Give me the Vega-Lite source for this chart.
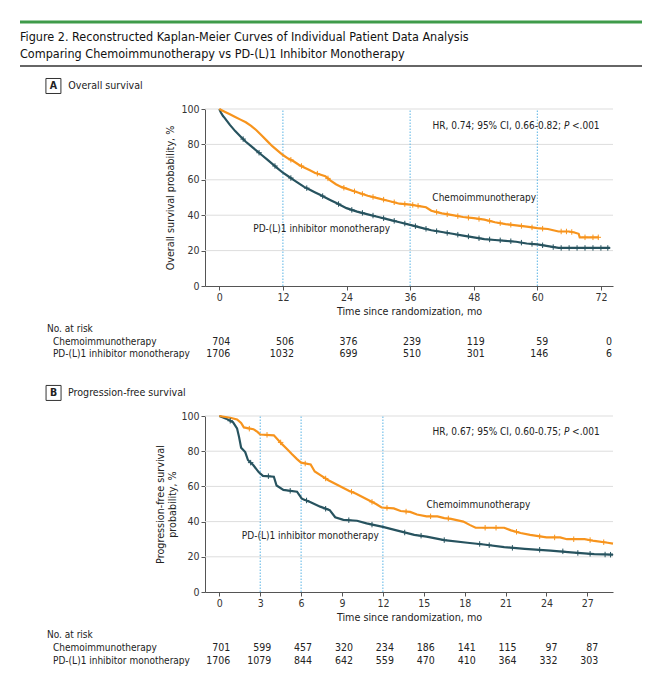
{
  "$schema": "https://vega.github.io/schema/vega-lite/v6.json",
  "width": 660,
  "height": 680,
  "autosize": {"type": "none"},
  "padding": 0,
  "background": "white",
  "config": {
    "font": "Liberation Sans Narrow, DejaVu Sans Condensed, Liberation Sans, sans-serif",
    "view": {"stroke": null},
    "text": {"color": "#222", "fontSize": 10},
    "axis": {
      "grid": false,
      "domainColor": "#555",
      "tickColor": "#555",
      "tickSize": 4,
      "labelColor": "#333",
      "titleColor": "#222",
      "labelFontSize": 10.5,
      "titleFontSize": 10.7,
      "titleFontWeight": "normal"
    }
  },
  "resolve": {
    "scale": {"x": "independent", "y": "independent"},
    "axis": {"x": "independent", "y": "independent"}
  },
  "layer": [
    {
      "layer": [
        {
          "data": {"values": [{"rule": "top"}]},
          "mark": {"type": "rule", "stroke": "#3f9b4a", "strokeWidth": 3},
          "encoding": {
            "x": {"datum": 0, "type": "quantitative", "scale": {"domain": [0, 1], "range": [20, 642]}, "axis": null},
            "x2": {"datum": 1},
            "y": {"datum": 0, "type": "quantitative", "scale": {"domain": [0, 2.6], "range": [22, 66]}, "axis": null}
          }
        },
        {
          "data": {"values": [{"rule": "bottom"}]},
          "mark": {"type": "rule", "stroke": "#333", "strokeWidth": 1.5},
          "encoding": {
            "x": {"datum": 0, "type": "quantitative", "scale": {"domain": [0, 1], "range": [20, 642]}, "axis": null},
            "x2": {"datum": 1},
            "y": {"datum": 2.6, "type": "quantitative", "scale": {"domain": [0, 2.6], "range": [22, 66]}, "axis": null}
          }
        },
        {
          "data": {"values": [
            {"line": 1, "text": "Figure 2. Reconstructed Kaplan-Meier Curves of Individual Patient Data Analysis"},
            {"line": 2, "text": "Comparing Chemoimmunotherapy vs PD-(L)1 Inhibitor Monotherapy"}
          ]},
          "mark": {"type": "text", "align": "left", "baseline": "middle", "dy": -2, "fontSize": 12.5, "color": "#111"},
          "encoding": {
            "x": {"datum": 0, "type": "quantitative", "scale": {"domain": [0, 1], "range": [20, 642]}, "axis": null},
            "y": {"field": "line", "type": "quantitative", "scale": {"domain": [0, 2.6], "range": [22, 66]}, "axis": null},
            "text": {"field": "text"}
          }
        }
      ]
    },
    {
      "layer": [
        {
          "data": {"values": [{"s": 20}, {"s": 40}, {"s": 60}, {"s": 80}, {"s": 100}]},
          "mark": {"type": "rule", "stroke": "#dddddd", "strokeWidth": 1},
          "encoding": {
            "x": {"datum": -2.7, "type": "quantitative", "scale": {"domain": [-2.7, 74.28], "range": [205, 613], "nice": false, "zero": false}},
            "x2": {"datum": 74.28},
            "y": {"field": "s", "type": "quantitative", "scale": {"domain": [0, 100], "range": [286, 109], "nice": false, "zero": false}}
          }
        },
        {
          "data": {"values": [{"t": 12}, {"t": 36}, {"t": 60}]},
          "mark": {"type": "rule", "stroke": "#5ab4e5", "strokeWidth": 1, "strokeDash": [1.5, 1.5]},
          "encoding": {
            "x": {"field": "t", "type": "quantitative", "scale": {"domain": [-2.7, 74.28], "range": [205, 613], "nice": false, "zero": false}},
            "y": {"datum": 0, "type": "quantitative", "scale": {"domain": [0, 100], "range": [286, 109], "nice": false, "zero": false}},
            "y2": {"datum": 100}
          }
        },
        {
          "data": {"values": [
            {"arm": "PD", "t": 0, "s": 100}, {"arm": "PD", "t": 0.3, "s": 98}, {"arm": "PD", "t": 0.7, "s": 96}, {"arm": "PD", "t": 1, "s": 95},
            {"arm": "PD", "t": 2, "s": 91}, {"arm": "PD", "t": 3, "s": 87.5}, {"arm": "PD", "t": 4, "s": 84.5}, {"arm": "PD", "t": 5, "s": 81.5},
            {"arm": "PD", "t": 6, "s": 79}, {"arm": "PD", "t": 7, "s": 76.5}, {"arm": "PD", "t": 8, "s": 74}, {"arm": "PD", "t": 9, "s": 71.5},
            {"arm": "PD", "t": 10, "s": 69}, {"arm": "PD", "t": 11, "s": 66.5}, {"arm": "PD", "t": 12, "s": 64}, {"arm": "PD", "t": 13, "s": 62},
            {"arm": "PD", "t": 14, "s": 60}, {"arm": "PD", "t": 15, "s": 58}, {"arm": "PD", "t": 16, "s": 56}, {"arm": "PD", "t": 17, "s": 54.5},
            {"arm": "PD", "t": 18, "s": 53}, {"arm": "PD", "t": 19, "s": 51.5}, {"arm": "PD", "t": 20, "s": 50}, {"arm": "PD", "t": 21, "s": 48.5},
            {"arm": "PD", "t": 22, "s": 47}, {"arm": "PD", "t": 23, "s": 45.5}, {"arm": "PD", "t": 24, "s": 44}, {"arm": "PD", "t": 26, "s": 42},
            {"arm": "PD", "t": 28, "s": 40.5}, {"arm": "PD", "t": 30, "s": 39}, {"arm": "PD", "t": 32, "s": 37.5}, {"arm": "PD", "t": 34, "s": 36},
            {"arm": "PD", "t": 36, "s": 34.5}, {"arm": "PD", "t": 38, "s": 33}, {"arm": "PD", "t": 40, "s": 31.5}, {"arm": "PD", "t": 42, "s": 30.5},
            {"arm": "PD", "t": 44, "s": 29.5}, {"arm": "PD", "t": 46, "s": 28.5}, {"arm": "PD", "t": 48, "s": 27.5}, {"arm": "PD", "t": 50, "s": 26.5},
            {"arm": "PD", "t": 52, "s": 26}, {"arm": "PD", "t": 54, "s": 25.5}, {"arm": "PD", "t": 56, "s": 25}, {"arm": "PD", "t": 58, "s": 24},
            {"arm": "PD", "t": 60, "s": 23.5}, {"arm": "PD", "t": 62, "s": 22.5}, {"arm": "PD", "t": 64, "s": 21.5}, {"arm": "PD", "t": 70, "s": 21.5},
            {"arm": "PD", "t": 73.7, "s": 21.5},
            {"arm": "Chemo", "t": 0, "s": 100}, {"arm": "Chemo", "t": 1, "s": 98.5}, {"arm": "Chemo", "t": 2, "s": 97}, {"arm": "Chemo", "t": 3, "s": 95.5},
            {"arm": "Chemo", "t": 4, "s": 94}, {"arm": "Chemo", "t": 5, "s": 92.5}, {"arm": "Chemo", "t": 6, "s": 90.5}, {"arm": "Chemo", "t": 7, "s": 88},
            {"arm": "Chemo", "t": 8, "s": 85}, {"arm": "Chemo", "t": 9, "s": 82}, {"arm": "Chemo", "t": 10, "s": 79}, {"arm": "Chemo", "t": 11, "s": 76.5},
            {"arm": "Chemo", "t": 12, "s": 74}, {"arm": "Chemo", "t": 13, "s": 72}, {"arm": "Chemo", "t": 14, "s": 70.5}, {"arm": "Chemo", "t": 15, "s": 68.5},
            {"arm": "Chemo", "t": 16, "s": 67}, {"arm": "Chemo", "t": 17, "s": 65.5}, {"arm": "Chemo", "t": 18, "s": 64}, {"arm": "Chemo", "t": 19, "s": 63},
            {"arm": "Chemo", "t": 20, "s": 62}, {"arm": "Chemo", "t": 21, "s": 59.5}, {"arm": "Chemo", "t": 22, "s": 57.5}, {"arm": "Chemo", "t": 23, "s": 56},
            {"arm": "Chemo", "t": 24, "s": 55}, {"arm": "Chemo", "t": 25, "s": 54}, {"arm": "Chemo", "t": 26, "s": 53}, {"arm": "Chemo", "t": 28, "s": 51},
            {"arm": "Chemo", "t": 30, "s": 49.5}, {"arm": "Chemo", "t": 32, "s": 48}, {"arm": "Chemo", "t": 34, "s": 46.5}, {"arm": "Chemo", "t": 36, "s": 46},
            {"arm": "Chemo", "t": 37, "s": 45.5}, {"arm": "Chemo", "t": 38, "s": 45}, {"arm": "Chemo", "t": 39, "s": 44.5}, {"arm": "Chemo", "t": 40, "s": 42.5},
            {"arm": "Chemo", "t": 42, "s": 41}, {"arm": "Chemo", "t": 44, "s": 40}, {"arm": "Chemo", "t": 46, "s": 39}, {"arm": "Chemo", "t": 48, "s": 38.3},
            {"arm": "Chemo", "t": 50, "s": 37.5}, {"arm": "Chemo", "t": 52, "s": 36}, {"arm": "Chemo", "t": 54, "s": 35}, {"arm": "Chemo", "t": 56, "s": 34.3},
            {"arm": "Chemo", "t": 58, "s": 33.5}, {"arm": "Chemo", "t": 60, "s": 32.7}, {"arm": "Chemo", "t": 62, "s": 32.2}, {"arm": "Chemo", "t": 63, "s": 31.5},
            {"arm": "Chemo", "t": 64, "s": 30.8}, {"arm": "Chemo", "t": 66, "s": 30.8}, {"arm": "Chemo", "t": 67, "s": 30.2}, {"arm": "Chemo", "t": 67.8, "s": 29.5},
            {"arm": "Chemo", "t": 68, "s": 27.5}, {"arm": "Chemo", "t": 71.6, "s": 27.5}
          ]},
          "mark": {"type": "line", "strokeWidth": 2.2},
          "encoding": {
            "x": {
              "field": "t", "type": "quantitative",
              "scale": {"domain": [-2.7, 74.28], "range": [205, 613], "nice": false, "zero": false},
              "axis": {"orient": "bottom", "offset": -394, "values": [0, 12, 24, 36, 48, 60, 72], "title": "Time since randomization, mo", "labelPadding": 2, "titlePadding": 4}
            },
            "y": {
              "field": "s", "type": "quantitative",
              "scale": {"domain": [0, 100], "range": [286, 109], "nice": false, "zero": false},
              "axis": {"orient": "left", "offset": -205, "values": [0, 20, 40, 60, 80, 100], "title": "Overall survival probability, %", "labelPadding": 2, "titlePadding": 5}
            },
            "color": {"field": "arm", "type": "nominal", "scale": {"domain": ["Chemo", "PD"], "range": ["#f7941d", "#27535f"]}, "legend": null},
            "order": {"field": "t"}
          }
        },
        {
          "data": {"values": [
            {"arm": "PD", "t": 4.5, "s": 83}, {"arm": "PD", "t": 7.5, "s": 75.3}, {"arm": "PD", "t": 10.5, "s": 67.8}, {"arm": "PD", "t": 13.5, "s": 61},
            {"arm": "PD", "t": 16.5, "s": 55.3}, {"arm": "PD", "t": 19.5, "s": 50.8}, {"arm": "PD", "t": 22.5, "s": 46.3}, {"arm": "PD", "t": 25, "s": 43},
            {"arm": "PD", "t": 27, "s": 41.3}, {"arm": "PD", "t": 29, "s": 39.8}, {"arm": "PD", "t": 31, "s": 38.3}, {"arm": "PD", "t": 33, "s": 36.8},
            {"arm": "PD", "t": 35, "s": 35.3}, {"arm": "PD", "t": 37, "s": 33.8}, {"arm": "PD", "t": 39, "s": 32.3}, {"arm": "PD", "t": 41, "s": 31},
            {"arm": "PD", "t": 43, "s": 30}, {"arm": "PD", "t": 45, "s": 29}, {"arm": "PD", "t": 47, "s": 28}, {"arm": "PD", "t": 49, "s": 27},
            {"arm": "PD", "t": 51, "s": 26.3}, {"arm": "PD", "t": 53, "s": 25.8}, {"arm": "PD", "t": 55, "s": 25.3}, {"arm": "PD", "t": 57, "s": 24.5},
            {"arm": "PD", "t": 59, "s": 23.8}, {"arm": "PD", "t": 61, "s": 23}, {"arm": "PD", "t": 63, "s": 22}, {"arm": "PD", "t": 64.5, "s": 21.5},
            {"arm": "PD", "t": 66, "s": 21.5}, {"arm": "PD", "t": 67.5, "s": 21.5}, {"arm": "PD", "t": 69, "s": 21.5}, {"arm": "PD", "t": 70.5, "s": 21.5},
            {"arm": "PD", "t": 72, "s": 21.5}, {"arm": "PD", "t": 73.3, "s": 21.5},
            {"arm": "Chemo", "t": 13.5, "s": 71.3}, {"arm": "Chemo", "t": 15.5, "s": 67.8}, {"arm": "Chemo", "t": 18.5, "s": 63.5}, {"arm": "Chemo", "t": 20.5, "s": 60.8},
            {"arm": "Chemo", "t": 23.5, "s": 55.5}, {"arm": "Chemo", "t": 25.5, "s": 53.5}, {"arm": "Chemo", "t": 27, "s": 52}, {"arm": "Chemo", "t": 29, "s": 50.3},
            {"arm": "Chemo", "t": 31, "s": 48.8}, {"arm": "Chemo", "t": 33, "s": 47.3}, {"arm": "Chemo", "t": 35, "s": 46.3}, {"arm": "Chemo", "t": 36.5, "s": 45.8},
            {"arm": "Chemo", "t": 37.5, "s": 45.3}, {"arm": "Chemo", "t": 41, "s": 41.8}, {"arm": "Chemo", "t": 43, "s": 40.5}, {"arm": "Chemo", "t": 45, "s": 39.5},
            {"arm": "Chemo", "t": 47, "s": 38.6}, {"arm": "Chemo", "t": 49, "s": 37.9}, {"arm": "Chemo", "t": 51, "s": 36.8}, {"arm": "Chemo", "t": 53, "s": 35.5},
            {"arm": "Chemo", "t": 55, "s": 34.6}, {"arm": "Chemo", "t": 57, "s": 33.9}, {"arm": "Chemo", "t": 59, "s": 33.1}, {"arm": "Chemo", "t": 61, "s": 32.4},
            {"arm": "Chemo", "t": 64.5, "s": 30.8}, {"arm": "Chemo", "t": 65.5, "s": 30.8}, {"arm": "Chemo", "t": 66.5, "s": 30.5}, {"arm": "Chemo", "t": 69, "s": 27.5},
            {"arm": "Chemo", "t": 70.5, "s": 27.5}, {"arm": "Chemo", "t": 71.5, "s": 27.5}
          ]},
          "mark": {"type": "point", "shape": "M-1,0H1M0,-1V1", "filled": false, "size": 30, "strokeWidth": 1, "opacity": 1},
          "encoding": {
            "x": {"field": "t", "type": "quantitative", "scale": {"domain": [-2.7, 74.28], "range": [205, 613], "nice": false, "zero": false}},
            "y": {"field": "s", "type": "quantitative", "scale": {"domain": [0, 100], "range": [286, 109], "nice": false, "zero": false}},
            "color": {"field": "arm", "type": "nominal", "scale": {"domain": ["Chemo", "PD"], "range": ["#f7941d", "#27535f"]}, "legend": null}
          }
        },
        {
          "data": {"values": [
            {"label": "Chemoimmunotherapy", "t": 40.2, "s": 49.9},
            {"label": "PD-(L)1 inhibitor monotherapy", "t": 6.4, "s": 32.2}
          ]},
          "mark": {"type": "text", "align": "left", "baseline": "middle"},
          "encoding": {
            "x": {"field": "t", "type": "quantitative", "scale": {"domain": [-2.7, 74.28], "range": [205, 613], "nice": false, "zero": false}},
            "y": {"field": "s", "type": "quantitative", "scale": {"domain": [0, 100], "range": [286, 109], "nice": false, "zero": false}},
            "text": {"field": "label"}
          }
        },
        {
          "data": {"values": [{"label": "HR, 0.74; 95% CI, 0.66-0.82;"}]},
          "mark": {"type": "text", "align": "right", "baseline": "middle"},
          "encoding": {
            "x": {"datum": 64.47, "type": "quantitative", "scale": {"domain": [-2.7, 74.28], "range": [205, 613], "nice": false, "zero": false}},
            "y": {"datum": 90.6, "type": "quantitative", "scale": {"domain": [0, 100], "range": [286, 109], "nice": false, "zero": false}},
            "text": {"field": "label"}
          }
        },
        {
          "data": {"values": [{"label": "P"}]},
          "mark": {"type": "text", "align": "right", "baseline": "middle", "fontStyle": "italic"},
          "encoding": {
            "x": {"datum": 66.08, "type": "quantitative", "scale": {"domain": [-2.7, 74.28], "range": [205, 613], "nice": false, "zero": false}},
            "y": {"datum": 90.6, "type": "quantitative", "scale": {"domain": [0, 100], "range": [286, 109], "nice": false, "zero": false}},
            "text": {"field": "label"}
          }
        },
        {
          "data": {"values": [{"label": "<.001"}]},
          "mark": {"type": "text", "align": "left", "baseline": "middle"},
          "encoding": {
            "x": {"datum": 66.55, "type": "quantitative", "scale": {"domain": [-2.7, 74.28], "range": [205, 613], "nice": false, "zero": false}},
            "y": {"datum": 90.6, "type": "quantitative", "scale": {"domain": [0, 100], "range": [286, 109], "nice": false, "zero": false}},
            "text": {"field": "label"}
          }
        },
        {
          "data": {"values": [{"label": "A"}]},
          "mark": {"type": "point", "shape": "square", "filled": false, "size": 225, "stroke": "#333", "strokeWidth": 1, "opacity": 1},
          "encoding": {
            "x": {"datum": -31.3, "type": "quantitative", "scale": {"domain": [-2.7, 74.28], "range": [205, 613], "nice": false, "zero": false}},
            "y": {"datum": 113, "type": "quantitative", "scale": {"domain": [0, 100], "range": [286, 109], "nice": false, "zero": false}}
          }
        },
        {
          "data": {"values": [{"label": "A"}]},
          "mark": {"type": "text", "align": "center", "baseline": "middle", "fontWeight": "bold", "fontSize": 10.5},
          "encoding": {
            "x": {"datum": -31.3, "type": "quantitative", "scale": {"domain": [-2.7, 74.28], "range": [205, 613], "nice": false, "zero": false}},
            "y": {"datum": 113, "type": "quantitative", "scale": {"domain": [0, 100], "range": [286, 109], "nice": false, "zero": false}},
            "text": {"field": "label"}
          }
        },
        {
          "data": {"values": [{"label": "Overall survival"}]},
          "mark": {"type": "text", "align": "left", "baseline": "middle", "fontSize": 10.6},
          "encoding": {
            "x": {"datum": -28.5, "type": "quantitative", "scale": {"domain": [-2.7, 74.28], "range": [205, 613], "nice": false, "zero": false}},
            "y": {"datum": 113, "type": "quantitative", "scale": {"domain": [0, 100], "range": [286, 109], "nice": false, "zero": false}},
            "text": {"field": "label"}
          }
        },
        {
          "data": {"values": [{"label": "No. at risk"}]},
          "mark": {"type": "text", "align": "left", "baseline": "middle"},
          "encoding": {
            "x": {"datum": -32.5, "type": "quantitative", "scale": {"domain": [-2.7, 74.28], "range": [205, 613], "nice": false, "zero": false}},
            "y": {"datum": -24.3, "type": "quantitative", "scale": {"domain": [0, 100], "range": [286, 109], "nice": false, "zero": false}},
            "text": {"field": "label"}
          }
        },
        {
          "data": {"values": [{"label": "Chemoimmunotherapy"}]},
          "mark": {"type": "text", "align": "left", "baseline": "middle"},
          "encoding": {
            "x": {"datum": -31.4, "type": "quantitative", "scale": {"domain": [-2.7, 74.28], "range": [205, 613], "nice": false, "zero": false}},
            "y": {"datum": -31.5, "type": "quantitative", "scale": {"domain": [0, 100], "range": [286, 109], "nice": false, "zero": false}},
            "text": {"field": "label"}
          }
        },
        {
          "data": {"values": [{"label": "PD-(L)1 inhibitor monotherapy"}]},
          "mark": {"type": "text", "align": "left", "baseline": "middle"},
          "encoding": {
            "x": {"datum": -31.4, "type": "quantitative", "scale": {"domain": [-2.7, 74.28], "range": [205, 613], "nice": false, "zero": false}},
            "y": {"datum": -38.4, "type": "quantitative", "scale": {"domain": [0, 100], "range": [286, 109], "nice": false, "zero": false}},
            "text": {"field": "label"}
          }
        },
        {
          "data": {"values": [
            {"arm": "Chemo", "t": 0, "n": 704}, {"arm": "Chemo", "t": 12, "n": 506}, {"arm": "Chemo", "t": 24, "n": 376}, {"arm": "Chemo", "t": 36, "n": 239},
            {"arm": "Chemo", "t": 48, "n": 119}, {"arm": "Chemo", "t": 60, "n": 59}, {"arm": "Chemo", "t": 72, "n": 0}
          ]},
          "mark": {"type": "text", "align": "right", "baseline": "middle", "dx": 11, "fontSize": 10.5},
          "encoding": {
            "x": {"field": "t", "type": "quantitative", "scale": {"domain": [-2.7, 74.28], "range": [205, 613], "nice": false, "zero": false}},
            "y": {"datum": -31.5, "type": "quantitative", "scale": {"domain": [0, 100], "range": [286, 109], "nice": false, "zero": false}},
            "text": {"field": "n"}
          }
        },
        {
          "data": {"values": [
            {"arm": "PD", "t": 0, "n": 1706}, {"arm": "PD", "t": 12, "n": 1032}, {"arm": "PD", "t": 24, "n": 699}, {"arm": "PD", "t": 36, "n": 510},
            {"arm": "PD", "t": 48, "n": 301}, {"arm": "PD", "t": 60, "n": 146}, {"arm": "PD", "t": 72, "n": 6}
          ]},
          "mark": {"type": "text", "align": "right", "baseline": "middle", "dx": 11, "fontSize": 10.5},
          "encoding": {
            "x": {"field": "t", "type": "quantitative", "scale": {"domain": [-2.7, 74.28], "range": [205, 613], "nice": false, "zero": false}},
            "y": {"datum": -38.4, "type": "quantitative", "scale": {"domain": [0, 100], "range": [286, 109], "nice": false, "zero": false}},
            "text": {"field": "n"}
          }
        }
      ]
    },
    {
      "layer": [
        {
          "data": {"values": [{"s": 20}, {"s": 40}, {"s": 60}, {"s": 80}, {"s": 100}]},
          "mark": {"type": "rule", "stroke": "#dddddd", "strokeWidth": 1},
          "encoding": {
            "x": {"datum": -1.05, "type": "quantitative", "scale": {"domain": [-1.05, 28.88], "range": [205, 613], "nice": false, "zero": false}},
            "x2": {"datum": 28.88},
            "y": {"field": "s", "type": "quantitative", "scale": {"domain": [0, 100], "range": [592, 416], "nice": false, "zero": false}}
          }
        },
        {
          "data": {"values": [{"t": 3}, {"t": 6}, {"t": 12}]},
          "mark": {"type": "rule", "stroke": "#5ab4e5", "strokeWidth": 1, "strokeDash": [1.5, 1.5]},
          "encoding": {
            "x": {"field": "t", "type": "quantitative", "scale": {"domain": [-1.05, 28.88], "range": [205, 613], "nice": false, "zero": false}},
            "y": {"datum": 0, "type": "quantitative", "scale": {"domain": [0, 100], "range": [592, 416], "nice": false, "zero": false}},
            "y2": {"datum": 100}
          }
        },
        {
          "data": {"values": [
            {"arm": "PD", "t": 0, "s": 100}, {"arm": "PD", "t": 0.5, "s": 98.5}, {"arm": "PD", "t": 1, "s": 96.5}, {"arm": "PD", "t": 1.3, "s": 93},
            {"arm": "PD", "t": 1.45, "s": 88}, {"arm": "PD", "t": 1.6, "s": 82}, {"arm": "PD", "t": 1.9, "s": 79.5}, {"arm": "PD", "t": 2.1, "s": 75},
            {"arm": "PD", "t": 2.5, "s": 72}, {"arm": "PD", "t": 2.9, "s": 68}, {"arm": "PD", "t": 3.2, "s": 66}, {"arm": "PD", "t": 4, "s": 65.5},
            {"arm": "PD", "t": 4.2, "s": 60.5}, {"arm": "PD", "t": 4.7, "s": 58}, {"arm": "PD", "t": 5.7, "s": 57}, {"arm": "PD", "t": 6.05, "s": 53},
            {"arm": "PD", "t": 6.7, "s": 51}, {"arm": "PD", "t": 7.4, "s": 48.5}, {"arm": "PD", "t": 8.1, "s": 46.5}, {"arm": "PD", "t": 8.5, "s": 42.5},
            {"arm": "PD", "t": 9.1, "s": 41}, {"arm": "PD", "t": 10.1, "s": 40.5}, {"arm": "PD", "t": 10.8, "s": 39}, {"arm": "PD", "t": 12, "s": 37},
            {"arm": "PD", "t": 13, "s": 35}, {"arm": "PD", "t": 14.3, "s": 32.5}, {"arm": "PD", "t": 15.2, "s": 31.5}, {"arm": "PD", "t": 16.5, "s": 29.5},
            {"arm": "PD", "t": 18.2, "s": 28}, {"arm": "PD", "t": 19.4, "s": 27}, {"arm": "PD", "t": 20.9, "s": 25.5}, {"arm": "PD", "t": 22.4, "s": 24.5},
            {"arm": "PD", "t": 24.3, "s": 23.5}, {"arm": "PD", "t": 25.8, "s": 22.5}, {"arm": "PD", "t": 27.5, "s": 21.5}, {"arm": "PD", "t": 28.88, "s": 21.2},
            {"arm": "Chemo", "t": 0, "s": 100}, {"arm": "Chemo", "t": 0.8, "s": 99}, {"arm": "Chemo", "t": 1.3, "s": 98}, {"arm": "Chemo", "t": 1.6, "s": 96},
            {"arm": "Chemo", "t": 1.8, "s": 93.5}, {"arm": "Chemo", "t": 2.5, "s": 92.5}, {"arm": "Chemo", "t": 2.8, "s": 91}, {"arm": "Chemo", "t": 3, "s": 89.5},
            {"arm": "Chemo", "t": 4, "s": 89}, {"arm": "Chemo", "t": 4.3, "s": 86.5}, {"arm": "Chemo", "t": 4.6, "s": 84}, {"arm": "Chemo", "t": 5, "s": 81},
            {"arm": "Chemo", "t": 5.3, "s": 78.5}, {"arm": "Chemo", "t": 5.7, "s": 75.5}, {"arm": "Chemo", "t": 6, "s": 73.5}, {"arm": "Chemo", "t": 6.7, "s": 72.5},
            {"arm": "Chemo", "t": 7, "s": 68.5}, {"arm": "Chemo", "t": 7.5, "s": 66}, {"arm": "Chemo", "t": 8, "s": 63.5}, {"arm": "Chemo", "t": 8.5, "s": 61.5},
            {"arm": "Chemo", "t": 9, "s": 59.5}, {"arm": "Chemo", "t": 9.5, "s": 57.5}, {"arm": "Chemo", "t": 10, "s": 56}, {"arm": "Chemo", "t": 10.5, "s": 54},
            {"arm": "Chemo", "t": 11, "s": 52}, {"arm": "Chemo", "t": 11.5, "s": 50}, {"arm": "Chemo", "t": 11.9, "s": 48}, {"arm": "Chemo", "t": 12.8, "s": 47.5},
            {"arm": "Chemo", "t": 13.3, "s": 46}, {"arm": "Chemo", "t": 14, "s": 45.5}, {"arm": "Chemo", "t": 14.5, "s": 44}, {"arm": "Chemo", "t": 15.2, "s": 43},
            {"arm": "Chemo", "t": 16, "s": 43}, {"arm": "Chemo", "t": 16.5, "s": 42}, {"arm": "Chemo", "t": 17, "s": 41.5}, {"arm": "Chemo", "t": 17.9, "s": 40},
            {"arm": "Chemo", "t": 18.4, "s": 38}, {"arm": "Chemo", "t": 18.8, "s": 36.5}, {"arm": "Chemo", "t": 20.9, "s": 36.5}, {"arm": "Chemo", "t": 21.4, "s": 35},
            {"arm": "Chemo", "t": 22.1, "s": 33.5}, {"arm": "Chemo", "t": 22.8, "s": 32.5}, {"arm": "Chemo", "t": 24, "s": 31}, {"arm": "Chemo", "t": 25, "s": 31},
            {"arm": "Chemo", "t": 25.5, "s": 30}, {"arm": "Chemo", "t": 26.8, "s": 30}, {"arm": "Chemo", "t": 27.5, "s": 29}, {"arm": "Chemo", "t": 28.5, "s": 28},
            {"arm": "Chemo", "t": 28.88, "s": 27.5}
          ]},
          "mark": {"type": "line", "strokeWidth": 2.2},
          "encoding": {
            "x": {
              "field": "t", "type": "quantitative",
              "scale": {"domain": [-1.05, 28.88], "range": [205, 613], "nice": false, "zero": false},
              "axis": {"orient": "bottom", "offset": -88, "values": [0, 3, 6, 9, 12, 15, 18, 21, 24, 27], "title": "Time since randomization, mo", "labelPadding": 2, "titlePadding": 4}
            },
            "y": {
              "field": "s", "type": "quantitative",
              "scale": {"domain": [0, 100], "range": [592, 416], "nice": false, "zero": false},
              "axis": {"orient": "left", "offset": -205, "values": [0, 20, 40, 60, 80, 100], "title": ["Progression-free survival", "probability, %"], "labelPadding": 2, "titlePadding": 3}
            },
            "color": {"field": "arm", "type": "nominal", "scale": {"domain": ["Chemo", "PD"], "range": ["#f7941d", "#27535f"]}, "legend": null},
            "order": {"field": "t"}
          }
        },
        {
          "data": {"values": [
            {"arm": "PD", "t": 0.8, "s": 97.3}, {"arm": "PD", "t": 2.3, "s": 73.5}, {"arm": "PD", "t": 3.6, "s": 65.8}, {"arm": "PD", "t": 5.2, "s": 57.5},
            {"arm": "PD", "t": 6.4, "s": 52}, {"arm": "PD", "t": 7.8, "s": 47.3}, {"arm": "PD", "t": 9.5, "s": 40.8}, {"arm": "PD", "t": 11.2, "s": 38.3},
            {"arm": "PD", "t": 13.6, "s": 33.8}, {"arm": "PD", "t": 14.8, "s": 32}, {"arm": "PD", "t": 16.5, "s": 29.5}, {"arm": "PD", "t": 19.1, "s": 27.3},
            {"arm": "PD", "t": 19.8, "s": 26.6}, {"arm": "PD", "t": 21.5, "s": 25.1}, {"arm": "PD", "t": 23.5, "s": 24}, {"arm": "PD", "t": 25.2, "s": 23.1},
            {"arm": "PD", "t": 26.3, "s": 22.2}, {"arm": "PD", "t": 27.2, "s": 21.7}, {"arm": "PD", "t": 28.3, "s": 21.3}, {"arm": "PD", "t": 28.7, "s": 21.2},
            {"arm": "Chemo", "t": 2.2, "s": 92.8}, {"arm": "Chemo", "t": 3.5, "s": 89.3}, {"arm": "Chemo", "t": 4.5, "s": 85}, {"arm": "Chemo", "t": 6.3, "s": 73},
            {"arm": "Chemo", "t": 7.8, "s": 64.5}, {"arm": "Chemo", "t": 9.7, "s": 57}, {"arm": "Chemo", "t": 11.2, "s": 51.2}, {"arm": "Chemo", "t": 12.3, "s": 47.8},
            {"arm": "Chemo", "t": 13.7, "s": 45.7}, {"arm": "Chemo", "t": 15.5, "s": 43}, {"arm": "Chemo", "t": 16.8, "s": 41.8}, {"arm": "Chemo", "t": 19.5, "s": 36.5},
            {"arm": "Chemo", "t": 20.3, "s": 36.5}, {"arm": "Chemo", "t": 21.8, "s": 34.2}, {"arm": "Chemo", "t": 23.5, "s": 31.6}, {"arm": "Chemo", "t": 24.6, "s": 31},
            {"arm": "Chemo", "t": 26, "s": 30}, {"arm": "Chemo", "t": 27.2, "s": 29.5}, {"arm": "Chemo", "t": 28.2, "s": 28.3}
          ]},
          "mark": {"type": "point", "shape": "M-1,0H1M0,-1V1", "filled": false, "size": 30, "strokeWidth": 1, "opacity": 1},
          "encoding": {
            "x": {"field": "t", "type": "quantitative", "scale": {"domain": [-1.05, 28.88], "range": [205, 613], "nice": false, "zero": false}},
            "y": {"field": "s", "type": "quantitative", "scale": {"domain": [0, 100], "range": [592, 416], "nice": false, "zero": false}},
            "color": {"field": "arm", "type": "nominal", "scale": {"domain": ["Chemo", "PD"], "range": ["#f7941d", "#27535f"]}, "legend": null}
          }
        },
        {
          "data": {"values": [
            {"label": "Chemoimmunotherapy", "t": 15.2, "s": 49.4},
            {"label": "PD-(L)1 inhibitor monotherapy", "t": 1.65, "s": 31.8}
          ]},
          "mark": {"type": "text", "align": "left", "baseline": "middle"},
          "encoding": {
            "x": {"field": "t", "type": "quantitative", "scale": {"domain": [-1.05, 28.88], "range": [205, 613], "nice": false, "zero": false}},
            "y": {"field": "s", "type": "quantitative", "scale": {"domain": [0, 100], "range": [592, 416], "nice": false, "zero": false}},
            "text": {"field": "label"}
          }
        },
        {
          "data": {"values": [{"label": "HR, 0.67; 95% CI, 0.60-0.75;"}]},
          "mark": {"type": "text", "align": "right", "baseline": "middle"},
          "encoding": {
            "x": {"datum": 25.07, "type": "quantitative", "scale": {"domain": [-1.05, 28.88], "range": [205, 613], "nice": false, "zero": false}},
            "y": {"datum": 90.7, "type": "quantitative", "scale": {"domain": [0, 100], "range": [592, 416], "nice": false, "zero": false}},
            "text": {"field": "label"}
          }
        },
        {
          "data": {"values": [{"label": "P"}]},
          "mark": {"type": "text", "align": "right", "baseline": "middle", "fontStyle": "italic"},
          "encoding": {
            "x": {"datum": 25.69, "type": "quantitative", "scale": {"domain": [-1.05, 28.88], "range": [205, 613], "nice": false, "zero": false}},
            "y": {"datum": 90.7, "type": "quantitative", "scale": {"domain": [0, 100], "range": [592, 416], "nice": false, "zero": false}},
            "text": {"field": "label"}
          }
        },
        {
          "data": {"values": [{"label": "<.001"}]},
          "mark": {"type": "text", "align": "left", "baseline": "middle"},
          "encoding": {
            "x": {"datum": 25.88, "type": "quantitative", "scale": {"domain": [-1.05, 28.88], "range": [205, 613], "nice": false, "zero": false}},
            "y": {"datum": 90.7, "type": "quantitative", "scale": {"domain": [0, 100], "range": [592, 416], "nice": false, "zero": false}},
            "text": {"field": "label"}
          }
        },
        {
          "data": {"values": [{"label": "B"}]},
          "mark": {"type": "point", "shape": "square", "filled": false, "size": 225, "stroke": "#333", "strokeWidth": 1, "opacity": 1},
          "encoding": {
            "x": {"datum": -12.16, "type": "quantitative", "scale": {"domain": [-1.05, 28.88], "range": [205, 613], "nice": false, "zero": false}},
            "y": {"datum": 113.1, "type": "quantitative", "scale": {"domain": [0, 100], "range": [592, 416], "nice": false, "zero": false}}
          }
        },
        {
          "data": {"values": [{"label": "B"}]},
          "mark": {"type": "text", "align": "center", "baseline": "middle", "fontWeight": "bold", "fontSize": 10.5},
          "encoding": {
            "x": {"datum": -12.16, "type": "quantitative", "scale": {"domain": [-1.05, 28.88], "range": [205, 613], "nice": false, "zero": false}},
            "y": {"datum": 113.1, "type": "quantitative", "scale": {"domain": [0, 100], "range": [592, 416], "nice": false, "zero": false}},
            "text": {"field": "label"}
          }
        },
        {
          "data": {"values": [{"label": "Progression-free survival"}]},
          "mark": {"type": "text", "align": "left", "baseline": "middle", "fontSize": 10.6},
          "encoding": {
            "x": {"datum": -11.1, "type": "quantitative", "scale": {"domain": [-1.05, 28.88], "range": [205, 613], "nice": false, "zero": false}},
            "y": {"datum": 113.1, "type": "quantitative", "scale": {"domain": [0, 100], "range": [592, 416], "nice": false, "zero": false}},
            "text": {"field": "label"}
          }
        },
        {
          "data": {"values": [{"label": "No. at risk"}]},
          "mark": {"type": "text", "align": "left", "baseline": "middle"},
          "encoding": {
            "x": {"datum": -12.64, "type": "quantitative", "scale": {"domain": [-1.05, 28.88], "range": [205, 613], "nice": false, "zero": false}},
            "y": {"datum": -24.4, "type": "quantitative", "scale": {"domain": [0, 100], "range": [592, 416], "nice": false, "zero": false}},
            "text": {"field": "label"}
          }
        },
        {
          "data": {"values": [{"label": "Chemoimmunotherapy"}]},
          "mark": {"type": "text", "align": "left", "baseline": "middle"},
          "encoding": {
            "x": {"datum": -12.2, "type": "quantitative", "scale": {"domain": [-1.05, 28.88], "range": [205, 613], "nice": false, "zero": false}},
            "y": {"datum": -31.8, "type": "quantitative", "scale": {"domain": [0, 100], "range": [592, 416], "nice": false, "zero": false}},
            "text": {"field": "label"}
          }
        },
        {
          "data": {"values": [{"label": "PD-(L)1 inhibitor monotherapy"}]},
          "mark": {"type": "text", "align": "left", "baseline": "middle"},
          "encoding": {
            "x": {"datum": -12.2, "type": "quantitative", "scale": {"domain": [-1.05, 28.88], "range": [205, 613], "nice": false, "zero": false}},
            "y": {"datum": -39.2, "type": "quantitative", "scale": {"domain": [0, 100], "range": [592, 416], "nice": false, "zero": false}},
            "text": {"field": "label"}
          }
        },
        {
          "data": {"values": [
            {"arm": "Chemo", "t": 0, "n": 701}, {"arm": "Chemo", "t": 3, "n": 599}, {"arm": "Chemo", "t": 6, "n": 457}, {"arm": "Chemo", "t": 9, "n": 320},
            {"arm": "Chemo", "t": 12, "n": 234}, {"arm": "Chemo", "t": 15, "n": 186}, {"arm": "Chemo", "t": 18, "n": 141}, {"arm": "Chemo", "t": 21, "n": 115},
            {"arm": "Chemo", "t": 24, "n": 97}, {"arm": "Chemo", "t": 27, "n": 87}
          ]},
          "mark": {"type": "text", "align": "right", "baseline": "middle", "dx": 11, "fontSize": 10.5},
          "encoding": {
            "x": {"field": "t", "type": "quantitative", "scale": {"domain": [-1.05, 28.88], "range": [205, 613], "nice": false, "zero": false}},
            "y": {"datum": -31.8, "type": "quantitative", "scale": {"domain": [0, 100], "range": [592, 416], "nice": false, "zero": false}},
            "text": {"field": "n"}
          }
        },
        {
          "data": {"values": [
            {"arm": "PD", "t": 0, "n": 1706}, {"arm": "PD", "t": 3, "n": 1079}, {"arm": "PD", "t": 6, "n": 844}, {"arm": "PD", "t": 9, "n": 642},
            {"arm": "PD", "t": 12, "n": 559}, {"arm": "PD", "t": 15, "n": 470}, {"arm": "PD", "t": 18, "n": 410}, {"arm": "PD", "t": 21, "n": 364},
            {"arm": "PD", "t": 24, "n": 332}, {"arm": "PD", "t": 27, "n": 303}
          ]},
          "mark": {"type": "text", "align": "right", "baseline": "middle", "dx": 11, "fontSize": 10.5},
          "encoding": {
            "x": {"field": "t", "type": "quantitative", "scale": {"domain": [-1.05, 28.88], "range": [205, 613], "nice": false, "zero": false}},
            "y": {"datum": -39.2, "type": "quantitative", "scale": {"domain": [0, 100], "range": [592, 416], "nice": false, "zero": false}},
            "text": {"field": "n"}
          }
        }
      ]
    }
  ]
}
